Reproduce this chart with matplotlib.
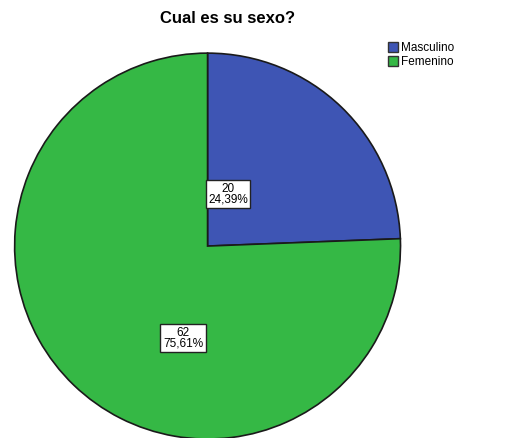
import matplotlib.pyplot as plt
from matplotlib.patches import Patch

plt.rcParams['font.family'] = ['Liberation Sans', 'DejaVu Sans']

categories = ["Masculino", "Femenino"]
counts = [20, 62]
percent_labels = ["24,39%", "75,61%"]
colors = ["#3E55B4", "#35B845"]

fig = plt.figure(figsize=(5.06, 4.38), dpi=100)
ax = fig.add_axes([0.0287, -0.0023, 0.763, 0.881])

wedges, _ = ax.pie(counts, colors=colors, startangle=90, counterclock=False,
                   wedgeprops=dict(edgecolor="#1a1a1a", linewidth=1.2))
ax.set_xlim(-1, 1)
ax.set_ylim(-1, 1)
ax.set_aspect("equal")

# label positions inside the wedges
label_pos = [(0.106, 0.269), (-0.127, -0.477)]
for (x, y), n, p in zip(label_pos, counts, percent_labels):
    ax.text(x, y, f"{n}\n{p}", ha="center", va="center", fontsize=8.5,
            linespacing=0.9,
            bbox=dict(boxstyle="square,pad=0.22", facecolor="white",
                      edgecolor="#222222", linewidth=1))

fig.text(0.449, 0.958, "Cual es su sexo?", ha="center", va="center",
         fontsize=12, fontweight="bold")

handles = [Patch(facecolor=c, edgecolor="#333333") for c in colors]
fig.legend(handles, categories, loc="upper left", bbox_to_anchor=(0.757, 0.915),
           frameon=False, fontsize=8.5, handlelength=0.9, handleheight=0.9,
           handletextpad=0.25, labelspacing=0.15, borderaxespad=0)

fig.savefig("out.png", dpi=100)
